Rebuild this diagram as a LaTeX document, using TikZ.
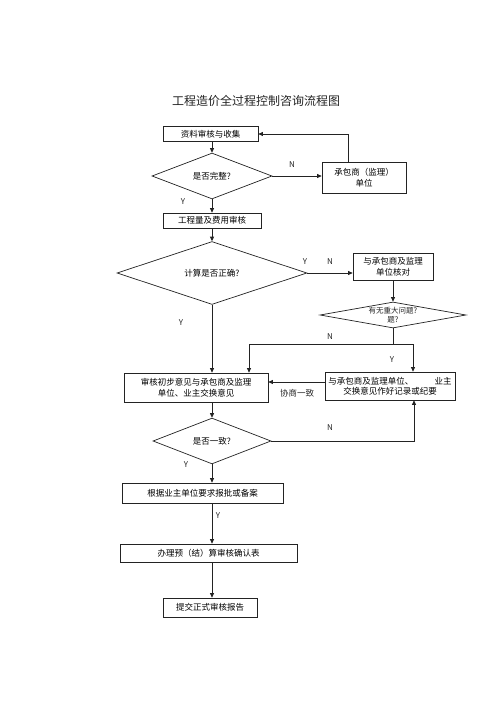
\documentclass[tikz,border=0pt]{standalone}
\usepackage{fontspec}
\setmainfont{Noto Sans CJK SC}
\usepackage{tikz}
\usetikzlibrary{arrows.meta,positioning,calc,shapes.geometric}
\usepackage{xcolor}
\definecolor{ink}{RGB}{35,35,35}
\tikzset{
  box/.style={draw=ink,fill=white,line width=0.7pt,inner sep=2pt,align=center,font={\fontsize{8.5}{10.5}\selectfont}},
  dec/.style={diamond,draw=ink,fill=white,line width=0.7pt,inner sep=0pt,align=center,font={\fontsize{8.5}{10.5}\selectfont}},
  arr/.style={-{Triangle[length=4.5pt,width=4pt]},line width=0.8pt,draw=ink},
  lin/.style={line width=0.8pt,draw=ink},
  yn/.style={font={\fontsize{8}{9}\selectfont},text=ink},
}

\begin{document}
\begin{tikzpicture}[x=1pt,y=-1pt]
  \useasboundingbox (0,0) rectangle (500,707);
  \node[font={\fontsize{12}{14}\selectfont},text=ink] (title) at (256,101) {工程造价全过程控制咨询流程图};

  \node[box,minimum width=95pt,minimum height=15pt] (ziliao) at (210.5,134) {资料审核与收集};
  \node[dec,minimum width=120pt,minimum height=28pt] (wanzheng) at (212,176) {是否完整?};
  \node[box,minimum width=84pt,minimum height=31pt] (chengbao) at (364,177.5) {承包商（监理）\\单位};
  \node[box,minimum width=98pt,minimum height=15pt] (shenhe) at (212,220.5) {工程量及费用审核};
  \node[dec,minimum width=190pt,minimum height=36pt] (zhengque) at (212,273) {计算是否正确?};
  \node[box,minimum width=80pt,minimum height=27pt] (hedui) at (393,266.5) {与承包商及监理\\单位核对};
  \node[dec,minimum width=146pt,minimum height=26pt,
    label={[align=center,font={\fontsize{7.5}{9}\selectfont},text=ink]center:有无重大问题?\\题?}] (wenti) at (393,315) {};
  \node[box,minimum width=144pt,minimum height=29pt] (jiaohuan) at (196,387.5) {审核初步意见与承包商及监理\\单位、业主交换意见};
  \node[box,minimum width=130pt,minimum height=28pt] (jilu) at (390,386) {与承包商及监理单位、\hspace{2.5em}业主\\交换意见作好记录或纪要};
  \node[dec,minimum width=118pt,minimum height=28pt] (yizhi) at (212,441) {是否一致?};
  \node[box,minimum width=161pt,minimum height=20pt] (baopi) at (202.5,493) {根据业主单位要求报批或备案};
  \node[box,minimum width=177pt,minimum height=18pt] (queren) at (208.5,553) {办理预（结）算审核确认表};
  \node[box,minimum width=94pt,minimum height=19pt] (baogao) at (210,607.5) {提交正式审核报告};

  % top loop
  \draw[arr] (ziliao.south -| wanzheng) -- (wanzheng.north);
  \draw[arr] (wanzheng.east) -- (wanzheng.east -| chengbao.west)
     node[yn,pos=0.4,above=5pt] (n1) {N};
  \draw[arr] ([xshift=-16pt]chengbao.north) |- (ziliao.east);
  \draw[arr] (wanzheng.south) -- (wanzheng.south |- shenhe.north);
  \node[yn] (y1) at (183,202) {Y};

  % check
  \draw[arr] (shenhe.south -| zhengque) -- (zhengque.north);
  \draw[arr] (zhengque.east) -- (zhengque.east -| hedui.west);
  \node[yn] (y2) at (305,262) {Y};
  \node[yn] (n2) at (330,262) {N};
  \draw[arr] (hedui.south -| wenti) -- (wenti.north);
  \coordinate (jn) at (393,344);
  \draw[lin] (wenti.south) -- (jn);
  \draw[arr] (jn) -| ([xshift=53pt]jiaohuan.north);
  \draw[arr] (jn) -| ([xshift=23pt]jilu.north);
  \node[yn] (n3) at (330,337) {N};
  \node[yn] (y3) at (392,360) {Y};
  \draw[arr] (zhengque.south) -- (zhengque.south |- jiaohuan.north);
  \node[yn] (y4) at (181,323) {Y};

  % exchange
  \draw[arr] ([yshift=4pt]jilu.west) -- ([yshift=4pt]jilu.west -| jiaohuan.east);
  \node[text=ink,font={\fontsize{8.5}{10}\selectfont}] (xieshang) at (297,393) {协商一致};
  \draw[arr] (jiaohuan.south -| yizhi) -- (yizhi.north);
  \draw[arr] (yizhi.east) -| ([xshift=24pt]jilu.south);
  \node[yn] (n4) at (330,428) {N};

  % bottom chain
  \draw[arr] (yizhi.south) -- (yizhi.south |- baopi.north);
  \node[yn] (y5) at (186,465) {Y};
  \draw[arr] (baopi.south -| yizhi) -- (queren.north -| yizhi);
  \node[yn] (y6) at (218,516) {Y};
  \draw[arr] (queren.south -| yizhi) -- (baogao.north -| yizhi);
\end{tikzpicture}
\end{document}
